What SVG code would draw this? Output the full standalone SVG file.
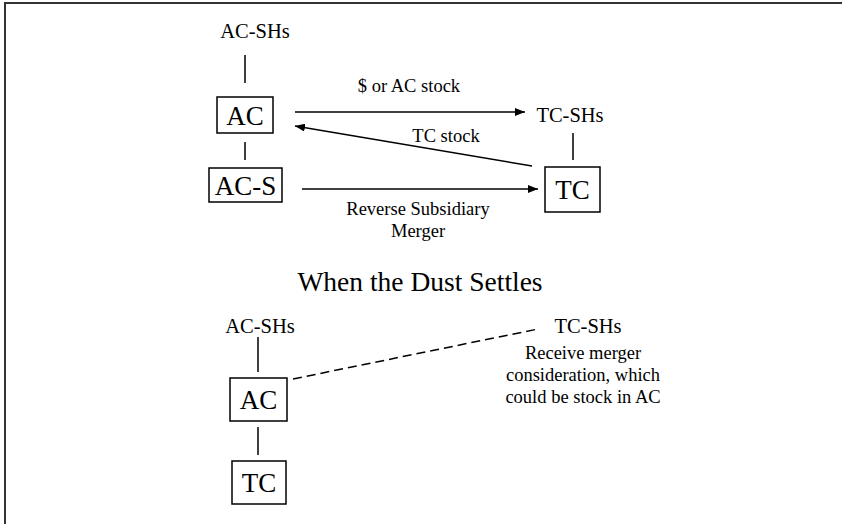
<svg xmlns="http://www.w3.org/2000/svg" width="842" height="524" viewBox="0 0 842 524">
<style>
.t{font-family:"Liberation Serif","Times New Roman",serif;fill:#000}
.lbl{font-size:18.5px;text-anchor:middle}
.sh{font-size:20.5px;text-anchor:middle}
.box{font-size:27px;text-anchor:middle}
.bx{fill:#fff;stroke:#000;stroke-width:1.5}
.ln{stroke:#000;stroke-width:1.5;fill:none}
</style>
<defs>
<marker id="ah" viewBox="0 0 10 8" refX="10" refY="4" markerWidth="10" markerHeight="8" markerUnits="userSpaceOnUse" orient="auto">
<path d="M0,0 L10,4 L0,8 z" fill="#000"/>
</marker>
</defs>
<rect width="842" height="524" fill="#fff"/>
<path d="M5,524 V3 H842" stroke="#333" stroke-width="2" fill="none"/>

<g id="connectors">
<line class="ln" x1="245" y1="55" x2="245" y2="83"/>
<line class="ln" x1="245" y1="142" x2="245" y2="160"/>
<line class="ln" x1="573" y1="133" x2="573" y2="160"/>
<line class="ln" x1="295" y1="112" x2="525" y2="112" marker-end="url(#ah)"/>
<line class="ln" x1="532" y1="166" x2="295" y2="126" marker-end="url(#ah)"/>
<line class="ln" x1="302" y1="189" x2="538" y2="189" marker-end="url(#ah)"/>
<line class="ln" x1="258" y1="337" x2="258" y2="372"/>
<line class="ln" x1="258" y1="427" x2="258" y2="455"/>
<line class="ln" x1="293" y1="379" x2="538" y2="329" stroke-width="2" stroke-dasharray="9,5"/>
</g>

<g id="top-ac-shs"><text class="t sh" x="255" y="38">AC-SHs</text></g>
<g id="top-ac"><rect class="bx" x="217" y="97" width="56" height="36"/><text class="t box" x="245" y="125">AC</text></g>
<g id="top-ac-s"><rect class="bx" x="209" y="168" width="73" height="34"/><text class="t box" x="245.5" y="195">AC-S</text></g>
<g id="top-tc-shs"><text class="t sh" x="570" y="122">TC-SHs</text></g>
<g id="top-tc"><rect class="bx" x="545" y="167" width="55" height="45"/><text class="t box" x="572.5" y="199">TC</text></g>

<g id="labels">
<text class="t lbl" x="409" y="92">$ or AC stock</text>
<text class="t lbl" x="446" y="142">TC stock</text>
<text class="t lbl" x="418" y="215">Reverse Subsidiary</text>
<text class="t lbl" x="418" y="237">Merger</text>
<text class="t" x="420" y="291" font-size="27.5" text-anchor="middle">When the Dust Settles</text>
</g>

<g id="bot-ac-shs"><text class="t sh" x="260" y="333">AC-SHs</text></g>
<g id="bot-ac"><rect class="bx" x="230" y="378" width="57" height="43"/><text class="t box" x="258.5" y="409">AC</text></g>
<g id="bot-tc"><rect class="bx" x="232" y="461" width="54" height="43"/><text class="t box" x="259" y="492">TC</text></g>
<g id="bot-tc-shs"><text class="t sh" x="588" y="333">TC-SHs</text>
<text class="t lbl" x="583" y="359">Receive merger</text>
<text class="t lbl" x="583" y="381">consideration, which</text>
<text class="t lbl" x="583" y="403">could be stock in AC</text></g>
</svg>
